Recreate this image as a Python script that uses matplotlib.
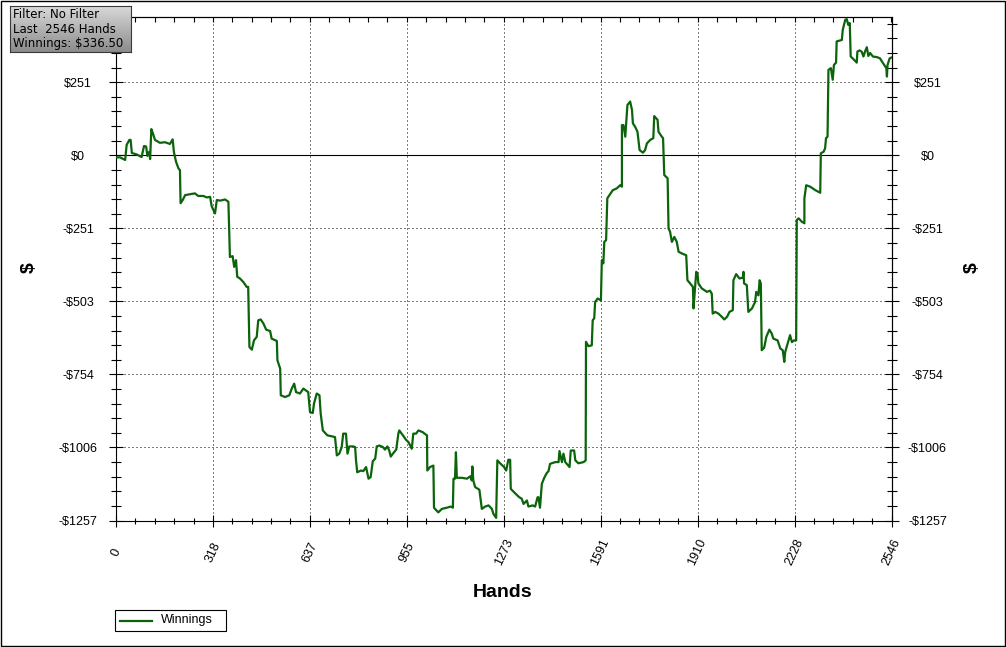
import matplotlib
matplotlib.use('Agg')
import matplotlib.pyplot as plt
from matplotlib.ticker import FixedLocator, NullFormatter
from matplotlib.patches import Rectangle
from matplotlib.lines import Line2D
import numpy as np

plt.rcParams['font.family'] = ['Liberation Sans', 'DejaVu Sans']

# ---------------- data ----------------
hands_a = [0, 13, 30, 35, 44, 48, 52, 68, 84, 92, 99, 103, 109, 112, 116, 121, 128, 144, 161, 177,
           186, 190, 197, 205, 210, 212, 219, 227, 249, 259, 270, 287, 298, 309, 314, 325, 331, 342, 358, 369,
           374, 383, 388, 394, 398, 407, 418, 429, 434, 438, 446, 453, 462, 467, 475, 484, 493, 506, 511, 528]
win_a = [-7, -7, -16, 36, 53, 53, 8, 3, -6, 32, 30, -2, 12, -13, 90, 76, 53, 43, 45, 39,
         55, 12, -22, -45, -51, -165, -154, -137, -133, -131, -140, -140, -145, -143, -175, -200, -154, -156, -152, -160,
         -350, -347, -384, -361, -418, -424, -436, -453, -453, -660, -669, -637, -625, -568, -565, -579, -600, -605, -631, -639]

hands_b = [530, 539, 541, 555, 569, 577, 585, 591, 604, 615, 626, 631, 637, 646, 650, 659, 668, 672, 679, 694,
           712, 719, 725, 733, 741, 746, 755, 760, 766, 779, 785, 788, 792, 804, 812, 821, 829, 836, 843, 851,
           856, 865, 876, 883, 891, 897, 902, 909, 920, 927, 930, 942, 952, 960, 971, 976, 985, 993, 1007]
win_b = [-706, -734, -826, -832, -826, -803, -786, -815, -820, -803, -811, -815, -884, -887, -855, -820, -826, -889, -947, -964,
         -968, -970, -1033, -1027, -1004, -958, -958, -1027, -1002, -1002, -1004, -1050, -1091, -1085, -1087, -1073, -1113, -1108, -1053, -1044,
         -1002, -999, -1004, -1013, -1002, -1016, -1037, -1027, -1013, -958, -947, -964, -979, -987, -1010, -958, -958, -947, -953]

hands_c = [1013, 1021, 1022, 1031, 1042, 1044, 1058, 1070, 1086, 1099, 1106, 1108, 1113, 1116, 1119, 1135, 1152, 1163, 1168, 1170,
           1173, 1179, 1193, 1201, 1212, 1223, 1234, 1239, 1248, 1252, 1261, 1274, 1281, 1288, 1294, 1296, 1310, 1324, 1332, 1338,
           1349, 1354, 1368, 1376, 1384, 1387, 1392, 1398, 1406, 1414, 1420, 1425, 1431, 1442, 1453, 1456, 1464, 1469, 1475, 1480,
           1489, 1493, 1504, 1508, 1518, 1535, 1542]
win_c = [-958, -964, -1085, -1073, -1068, -1213, -1229, -1217, -1213, -1209, -1213, -1113, -1113, -1022, -1110, -1110, -1113, -1105, -1119, -1071,
         -1119, -1142, -1151, -1217, -1209, -1205, -1217, -1234, -1248, -1050, -1060, -1073, -1085, -1048, -1048, -1148, -1163, -1177, -1182, -1200,
         -1188, -1209, -1205, -1209, -1177, -1177, -1213, -1131, -1110, -1094, -1087, -1062, -1060, -1056, -1056, -1018, -1056, -1027, -1056, -1062,
         -1073, -1016, -1016, -1050, -1060, -1056, -1050]

hands_d = [1543, 1551, 1562, 1565, 1570, 1573, 1581, 1592, 1595, 1600, 1603, 1609, 1613, 1620, 1631, 1644, 1655, 1661, 1661, 1666,
           1672, 1675, 1679, 1688, 1694, 1697, 1704, 1712, 1719, 1730, 1737, 1743, 1754, 1764, 1767, 1778, 1781, 1792, 1796, 1800,
           1811, 1814, 1819, 1825, 1833, 1841, 1847, 1858, 1872, 1876, 1885, 1894, 1896, 1901, 1905, 1909, 1912, 1923, 1940, 1950,
           1956, 1959, 1967, 1978, 1989, 1997, 2006, 2014, 2025, 2027, 2036, 2047, 2058, 2060, 2062, 2071, 2076, 2088, 2098, 2102,
           2109, 2113, 2117]
win_d = [-642, -657, -654, -568, -561, -505, -493, -499, -361, -372, -298, -292, -148, -137, -120, -114, -103, -108, 104, 104,
         64, 110, 173, 185, 156, 110, 99, 81, 18, 9, 18, 41, 53, 59, 135, 122, 81, 64, 59, -68,
         -79, -252, -263, -298, -281, -298, -332, -338, -344, -430, -441, -453, -527, -458, -401, -407, -441, -458, -470, -466,
         -476, -545, -539, -545, -556, -565, -556, -539, -533, -430, -409, -424, -421, -401, -441, -447, -539, -527, -505, -470,
         -482, -430, -441]

hands_e = [2120, 2128, 2135, 2145, 2153, 2158, 2172, 2181, 2189, 2194, 2197, 2205, 2213, 2219, 2226, 2233, 2235, 2241, 2252, 2260,
           2260, 2266, 2279, 2296, 2312, 2314, 2323, 2328, 2331, 2336, 2339, 2347, 2353, 2357, 2364, 2366, 2377, 2383, 2386, 2394,
           2399, 2404, 2409, 2412, 2421, 2432, 2434, 2441, 2448, 2454, 2459, 2465, 2470, 2476, 2485, 2498, 2508, 2517, 2529, 2531,
           2533, 2540, 2546]
win_e = [-671, -662, -625, -600, -614, -631, -637, -665, -671, -711, -677, -648, -619, -643, -637, -637, -223, -217, -229, -234,
         -148, -103, -108, -120, -129, 7, 12, 24, 59, 64, 294, 300, 260, 311, 319, 392, 395, 397, 432, 466,
         469, 449, 455, 340, 331, 319, 357, 361, 357, 340, 357, 372, 342, 352, 340, 338, 334, 319, 300, 271,
         311, 334, 336.5]

hands = hands_a + hands_b + hands_c + hands_d + hands_e
winnings = win_a + win_b + win_c + win_d + win_e
assert len(hands) == len(winnings)

total_hands = 2546
x_tick_labels = ['0', '318', '637', '955', '1273', '1591', '1910', '2228', '2546']
y_tick_labels = ['-$1257', '-$1006', '-$754', '-$503', '-$251', '$0', '$251']
y_step = 251.4
info_lines = ['Filter: No Filter', 'Last  2546 Hands', 'Winnings: $336.50']
series_name = 'Winnings'

# ---------------- layout ----------------
W, H = 1006, 647
fig = plt.figure(figsize=(W / 100, H / 100), dpi=100)
fig.patch.set_facecolor('white')

def fx(px):
    return px / W

def fy(py):
    return 1 - py / H

green = '#0b640b'
ax_l, ax_r, ax_t, ax_b = 116, 891.5, 17.3, 520.5
ax = fig.add_axes([fx(ax_l), fy(ax_b), (ax_r - ax_l) / W, (ax_b - ax_t) / H])
ax.plot(hands, winnings, color=green, lw=1.6, zorder=3)
ax.set_xlim(0, total_hands)
ax.set_ylim(-5 * y_step, 475)
ax.axhline(0, color='black', lw=0.8, zorder=2)

x_ticks = np.linspace(0, total_hands, 9)
x_minor = np.linspace(0, total_hands, 41)
y_ticks = np.arange(-5, 2) * y_step
y_minor = np.arange(-25, 10) * (y_step / 5)

ax.set_xticks(x_ticks)
ax.set_xticklabels(x_tick_labels)
ax.xaxis.set_minor_locator(FixedLocator(x_minor))
ax.set_yticks(y_ticks)
ax.set_yticklabels(y_tick_labels)
ax.yaxis.set_minor_locator(FixedLocator(y_minor))

ax.grid(True, which='major', color='black', lw=0.72, linestyle=(0, (1, 3)))
for s in ax.spines.values():
    s.set_linewidth(0.8)
    s.set_color('black')

ax.tick_params(axis='y', which='major', direction='inout', length=10, width=0.8,
               labelsize=9, pad=22.4, colors='black')
ax.tick_params(axis='y', which='minor', direction='inout', length=7, width=0.8)
ax.tick_params(axis='x', which='major', direction='inout', length=8.6, width=0.8,
               labelsize=9, pad=18.7, colors='black')
ax.tick_params(axis='x', which='minor', direction='inout', length=5, width=0.8)
plt.setp(ax.get_yticklabels(), ha='center')
plt.setp(ax.get_xticklabels(), rotation=65, ha='center', va='center')

secy = ax.secondary_yaxis('right')
secy.set_yticks(y_ticks)
secy.set_yticklabels(y_tick_labels)
secy.yaxis.set_minor_locator(FixedLocator(y_minor))
secy.tick_params(axis='y', which='major', direction='inout', length=10, width=0.8,
                 labelsize=9, pad=20.9, colors='black')
secy.tick_params(axis='y', which='minor', direction='inout', length=7, width=0.8)
secy.spines['right'].set_linewidth(0.8)
plt.setp(secy.get_yticklabels(), ha='center')

secx = ax.secondary_xaxis('top')
secx.set_xticks(x_ticks)
secx.xaxis.set_major_formatter(NullFormatter())
secx.xaxis.set_minor_locator(FixedLocator(x_minor))
secx.tick_params(axis='x', which='both', direction='in', length=3.6, width=0.8)
secx.spines['top'].set_linewidth(0.8)

# axis titles
fig.text(fx(29.5), fy(268), '$', rotation=90, ha='center', va='center',
         fontsize=14, fontweight='bold')
fig.text(fx(972), fy(268), '$', rotation=90, ha='center', va='center',
         fontsize=14, fontweight='bold')
fig.text(fx(503), fy(597), 'Hands', ha='center', va='baseline',
         fontsize=14, fontweight='bold')

# legend
fig.patches.append(Rectangle((fx(115), fy(631)), (226 - 115) / W, 21 / H,
                             transform=fig.transFigure, facecolor='white',
                             edgecolor='black', lw=0.8))
fig.lines.append(Line2D([fx(120), fx(152)], [fy(620.5), fy(620.5)],
                        transform=fig.transFigure, color=green, lw=1.6))
fig.text(fx(161), fy(620.5), series_name, ha='left', va='center', fontsize=9)

# info box with gradient
bax = fig.add_axes([fx(10), fy(51.7), 120.7 / W, 45.7 / H])
v = np.linspace(0.55, 0.85, 60).reshape(-1, 1)
bax.imshow(np.dstack([v, v, v]), aspect='auto', origin='lower', extent=[0, 1, 0, 1])
bax.set_xticks([])
bax.set_yticks([])
for s in bax.spines.values():
    s.set_color('#3a3a3a')
    s.set_linewidth(0.8)
for line, base in zip(info_lines, [18.3, 32.7, 47.0]):
    fig.text(fx(12.7), fy(base), line, ha='left', va='baseline', fontsize=8.5,
             family='DejaVu Sans', color='black')

# outer border
fig.patches.append(Rectangle((fx(1), fy(645.5)), 1003.5 / W, 644.5 / H,
                             transform=fig.transFigure, fill=False,
                             edgecolor='black', lw=1))

fig.savefig('out.png', dpi=100)
